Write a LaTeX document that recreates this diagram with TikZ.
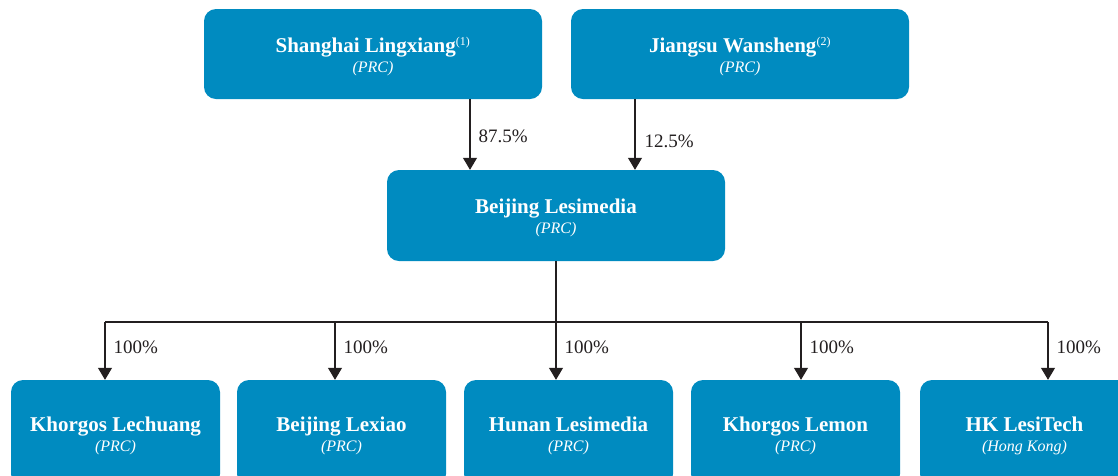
\documentclass[tikz,border=0pt]{standalone}
\usepackage{fontspec}
\setmainfont{Liberation Serif}
\usetikzlibrary{arrows.meta,positioning}
\definecolor{firmblue}{HTML}{008BC0}
\definecolor{inkgray}{HTML}{231F20}
\newcommand{\firm}[2]{{\rule{0pt}{20pt}\bfseries #1}\\
  {\fontsize{16}{20}\selectfont\itshape #2}}

\begin{document}
\begin{tikzpicture}[
  x=1pt, y=-1pt,
  edge/.style={-{Triangle[width=14pt,length=12pt]},line width=1.1pt,draw=inkgray},
  bus/.style={line width=1.1pt,draw=inkgray},
  holder/.style={fill=firmblue,rounded corners=12pt,text=white,align=center,
                 font=\fontsize{21}{20}\selectfont,
                 minimum width=338pt,minimum height=90pt,inner sep=0pt},
  sub/.style={holder,minimum width=209pt,minimum height=106pt},
  pct/.style={font=\fontsize{19}{22}\selectfont,text=inkgray,anchor=west,
              inner sep=0pt,xshift=8pt}
]
\useasboundingbox (0,0) rectangle (1118,475);
\clip (0,0) rectangle (1118,475);

\node[holder] (shanghai) at (373,54)
  {\firm{\rule{0pt}{21pt}Shanghai Lingxiang\textsuperscript{\fontsize{12}{12}\selectfont\mdseries(1)}}{(PRC)}};
\node[holder] (jiangsu) at (740,54)
  {\firm{\rule{0pt}{21pt}Jiangsu Wansheng\textsuperscript{\fontsize{12}{12}\selectfont\mdseries(2)}}{(PRC)}};
\node[holder,minimum height=91pt] (lesimedia) at (556,215.5)
  {\firm{Beijing Lesimedia}{(PRC)}};

\node[sub] (lechuang) at (115.5,433) {\firm{Khorgos Lechuang}{(PRC)}};
\node[sub] (lexiao) at (341.5,433) {\firm{Beijing Lexiao}{(PRC)}};
\node[sub] (hunan) at (568.5,433) {\firm{Hunan Lesimedia}{(PRC)}};
\node[sub] (lemon) at (795.5,433) {\firm{Khorgos Lemon}{(PRC)}};
\node[sub] (lesitech) at (1024.5,433) {\firm{HK LesiTech}{(Hong Kong)}};

% shareholders
\coordinate (xsh) at (470,0);
\coordinate (xjs) at (635,0);
\draw[edge] (shanghai.south -| xsh) -- node[pct,pos=0.52] {87.5\%} (lesimedia.north -| xsh);
\draw[edge] (jiangsu.south -| xjs) -- node[pct,pos=0.6,xshift=1pt] {12.5\%} (lesimedia.north -| xjs);

% subsidiaries
\coordinate (dlechuang) at (105,322);
\coordinate (dlexiao) at (335,322);
\coordinate (dhunan) at (556,322);
\coordinate (dlemon) at (801,322);
\coordinate (dlesitech) at (1048,322);
\draw[bus] (lesimedia.south) -- (dhunan);
\draw[bus] (dlechuang) -- (dlesitech);
\foreach \nm in {lechuang,lexiao,hunan,lemon,lesitech}
  \draw[edge] (d\nm) -- node[pct,pos=0.44] {100\%} (\nm.north -| d\nm);
\end{tikzpicture}
\end{document}
